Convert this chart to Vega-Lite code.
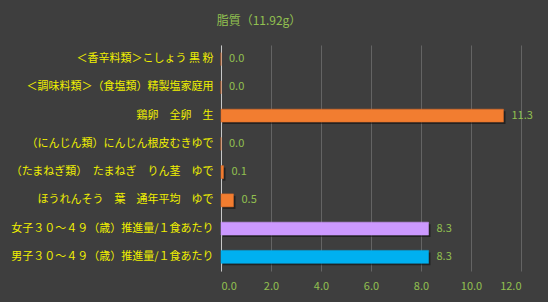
{
  "$schema": "https://vega.github.io/schema/vega-lite/v6.json",
  "autosize": "none",
  "width": 300,
  "height": 226,
  "padding": {"left": 221, "top": 45, "right": 27, "bottom": 31},
  "background": "#3e3e3e",
  "config": {"view": {"stroke": null}, "font": "Noto Sans CJK JP"},
  "title": {
    "text": "脂質（11.92g）",
    "color": "#92c050",
    "fontSize": 12,
    "fontWeight": "normal",
    "font": "Noto Sans CJK JP",
    "anchor": "middle",
    "dx": -112,
    "offset": 17
  },
  "data": {
    "values": [
      {"name": "＜香辛料類＞こしょう 黒 粉", "value": 0.0, "group": "food"},
      {"name": "＜調味料類＞（食塩類）精製塩家庭用", "value": 0.0, "group": "food"},
      {"name": "鶏卵　全卵　生", "value": 11.3, "group": "food"},
      {"name": "（にんじん類）にんじん根皮むきゆで", "value": 0.0, "group": "food"},
      {"name": "（たまねぎ類）　たまねぎ　りん茎　ゆで", "value": 0.1, "group": "food"},
      {"name": "ほうれんそう　葉　通年平均　ゆで", "value": 0.5, "group": "food"},
      {"name": "女子３０～４９（歳）推進量/１食あたり", "value": 8.3, "group": "female"},
      {"name": "男子３０～４９（歳）推進量/１食あたり", "value": 8.3, "group": "male"}
    ]
  },
  "encoding": {
    "y": {
      "field": "name",
      "type": "nominal",
      "sort": null,
      "scale": {"paddingInner": 0.54, "paddingOuter": 0.27},
      "axis": {
        "title": null,
        "ticks": false,
        "domainColor": "#c8c8c8",
        "domainWidth": 1,
        "labelColor": "#f0f000",
        "labelFontSize": 11,
        "labelPadding": 8,
        "labelLimit": 230
      }
    },
    "x": {
      "field": "value",
      "type": "quantitative",
      "scale": {"domain": [0, 12]},
      "axis": {
        "title": null,
        "values": [0, 2, 4, 6, 8, 10, 12],
        "format": ".1f",
        "domain": false,
        "ticks": false,
        "gridColor": "#646464",
        "gridWidth": 1,
        "labelColor": "#92c050",
        "labelFontSize": 11,
        "labelPadding": 9
      }
    }
  },
  "layer": [
    {
      "mark": {"type": "bar", "color": "#000000", "opacity": 0.45, "xOffset": 2, "yOffset": 2}
    },
    {
      "mark": {"type": "bar", "strokeWidth": 0.5},
      "encoding": {
        "color": {
          "field": "group",
          "type": "nominal",
          "scale": {"domain": ["food", "female", "male"], "range": ["#f27d30", "#cc99ff", "#00b0f0"]},
          "legend": null
        },
        "stroke": {
          "field": "group",
          "type": "nominal",
          "scale": {"domain": ["food", "female", "male"], "range": ["#d86a28", "#cc99ff", "#00b0f0"]},
          "legend": null
        }
      }
    },
    {
      "mark": {"type": "text", "align": "left", "dx": 8, "fontSize": 11, "color": "#92c050"},
      "encoding": {
        "text": {"field": "value", "type": "quantitative", "format": ".1f"}
      }
    }
  ]
}
